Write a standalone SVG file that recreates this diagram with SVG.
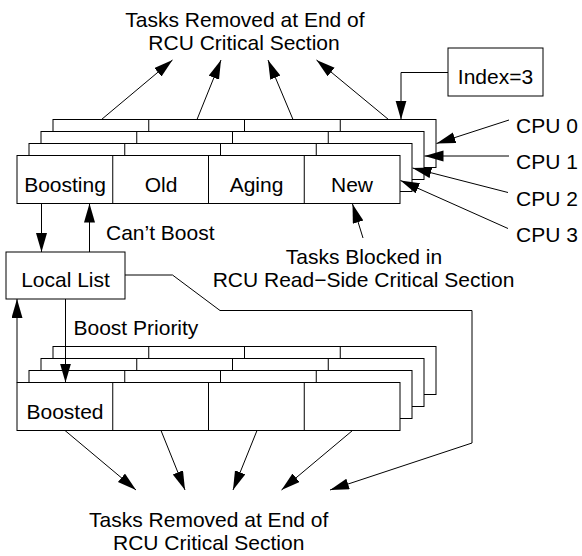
<svg xmlns="http://www.w3.org/2000/svg" xmlns:xlink="http://www.w3.org/1999/xlink" width="582" height="556" viewBox="0 0 582 556">
<style>
  .box { fill: #ffffff; stroke: #000000; stroke-width: 1; }
  .ln { fill: none; stroke: #000000; stroke-width: 1; }
  .arr { fill: none; stroke: #000000; stroke-width: 1; marker-end: url(#ah); }
  text { font-family: "Liberation Sans", Arial, Helvetica, sans-serif; font-size: 21px; fill: #000000; }
  .c { text-anchor: middle; }
</style>
<defs>
  <marker id="ah" markerUnits="userSpaceOnUse" markerWidth="20" markerHeight="12" refX="19" refY="5.5" orient="auto">
    <path d="M0,0 L19,5.5 L0,11 z" fill="#000000"/>
  </marker>
  <g id="layer">
    <rect class="box" x="0" y="0" width="383" height="48"/>
    <line class="ln" x1="95.75" y1="0" x2="95.75" y2="48"/>
    <line class="ln" x1="191.5" y1="0" x2="191.5" y2="48"/>
    <line class="ln" x1="287.25" y1="0" x2="287.25" y2="48"/>
  </g>
</defs>
<rect x="0" y="0" width="582" height="556" fill="#ffffff"/>

<g id="top-text">
  <text class="c" x="245" y="27">Tasks Removed at End of</text>
  <text class="c" x="244" y="49.5">RCU Critical Section</text>
</g>

<g id="index-box">
  <rect class="box" x="448" y="48" width="95" height="48"/>
  <text class="c" x="495.5" y="84">Index=3</text>
</g>

<g id="top-stack">
  <use xlink:href="#layer" x="53" y="119.5"/>
  <use xlink:href="#layer" x="41" y="131.5"/>
  <use xlink:href="#layer" x="29" y="143.5"/>
  <use xlink:href="#layer" x="17" y="155.5"/>
  <text class="c" x="65" y="192">Boosting</text>
  <text class="c" x="161" y="192">Old</text>
  <text class="c" x="256.5" y="192">Aging</text>
  <text class="c" x="352" y="192">New</text>
</g>

<g id="cpu-labels">
  <text x="516" y="132.5">CPU 0</text>
  <text x="516" y="169">CPU 1</text>
  <text x="516" y="206">CPU 2</text>
  <text x="516" y="242">CPU 3</text>
</g>

<g id="blocked-text">
  <text class="c" x="364" y="263.5">Tasks Blocked in</text>
  <text class="c" x="363.5" y="287">RCU Read−Side Critical Section</text>
</g>

<g id="local-list">
  <rect class="box" x="6" y="252" width="119" height="47"/>
  <text class="c" x="65.5" y="287">Local List</text>
</g>

<g id="labels">
  <text x="106" y="239.5">Can’t Boost</text>
  <text x="73.5" y="334.5">Boost Priority</text>
</g>

<g id="bottom-stack">
  <use xlink:href="#layer" x="53" y="346.5"/>
  <use xlink:href="#layer" x="41" y="358.5"/>
  <use xlink:href="#layer" x="29" y="370.5"/>
  <use xlink:href="#layer" x="17" y="382.5"/>
  <text class="c" x="65" y="419">Boosted</text>
</g>

<g id="bottom-text">
  <text class="c" x="208.7" y="527">Tasks Removed at End of</text>
  <text class="c" x="208.7" y="549.5">RCU Critical Section</text>
</g>

<g id="connectors">
  <line class="arr" x1="101.5" y1="119.5" x2="172.5" y2="60"/>
  <line class="arr" x1="197" y1="119.5" x2="221" y2="60"/>
  <line class="arr" x1="293" y1="119.5" x2="268" y2="60"/>
  <line class="arr" x1="388.5" y1="119.5" x2="316.5" y2="60"/>
  <polyline class="arr" points="448,72.5 401,72.5 401,119.5"/>
  <line class="arr" x1="509" y1="120" x2="436.5" y2="143.5"/>
  <line class="arr" x1="509" y1="156" x2="424.5" y2="156"/>
  <line class="arr" x1="508" y1="192.5" x2="412.5" y2="168"/>
  <line class="arr" x1="508" y1="228.5" x2="400.5" y2="180.5"/>
  <line class="arr" x1="363" y1="238" x2="352.5" y2="204"/>
  <line class="arr" x1="41.5" y1="203.5" x2="41.5" y2="252"/>
  <line class="arr" x1="89.5" y1="252" x2="89.5" y2="203.5"/>
  <line class="arr" x1="65.5" y1="299" x2="65.5" y2="382.5"/>
  <line class="arr" x1="17" y1="382.5" x2="17" y2="299"/>
  <polyline class="arr" points="125,275 172.5,275 220,310.5 472,310.5 472,443 330,490"/>
  <line class="arr" x1="65" y1="430.5" x2="136" y2="490"/>
  <line class="arr" x1="161" y1="430.5" x2="185" y2="490"/>
  <line class="arr" x1="257" y1="430.5" x2="233" y2="490"/>
  <line class="arr" x1="352.5" y1="430.5" x2="281.5" y2="490"/>
</g>
</svg>
